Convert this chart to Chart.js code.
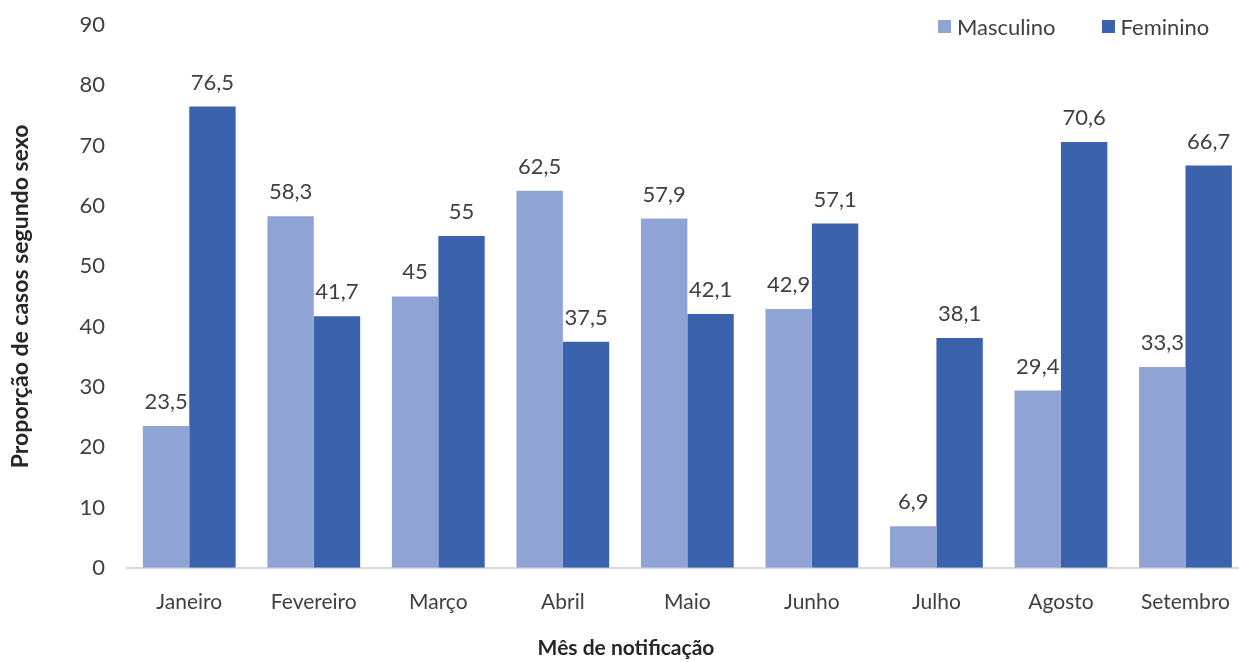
<!DOCTYPE html>
<html>
<head>
<meta charset="utf-8">
<script src="https://cdn.jsdelivr.net/npm/chart.js@4"></script>
<style>
  html, body { margin: 0; padding: 0; background: #fff; overflow: hidden; }
  #wrap { position: relative; width: 1252px; height: 662px; }
  #legend { position: absolute; top: 13px; left: 938px; font-family: Lato, sans-serif; font-size: 22px; color: #404040; display: flex; align-items: center; }
  #legend span.box { display: inline-block; width: 13px; height: 13px; margin-right: 6px; }
  #legend span.item { display: flex; align-items: center; margin-right: 46px; }
</style>
</head>
<body>
<div id="wrap">
  <canvas id="myChart" width="1252" height="662"></canvas>
  <div id="legend"></div>
</div>
<script>
var meses = ['Janeiro', 'Fevereiro', 'Março', 'Abril', 'Maio', 'Junho', 'Julho', 'Agosto', 'Setembro'];
var masculino = [23.5, 58.3, 45, 62.5, 57.9, 42.9, 6.9, 29.4, 33.3];
var feminino = [76.5, 41.7, 55, 37.5, 42.1, 57.1, 38.1, 70.6, 66.7];
var corMasc = '#8fa3d5';
var corFem = '#3b63ad';

// labels above bars, decimal comma
var valueLabels = {
    id: 'valueLabels',
    afterDatasetsDraw: function(chart) {
        var c = chart.ctx;
        c.save();
        c.font = '22px Lato, sans-serif';
        c.fillStyle = '#404040';
        c.textAlign = 'center';
        c.textBaseline = 'bottom';
        chart.data.datasets.forEach(function(ds, i) {
            chart.getDatasetMeta(i).data.forEach(function(bar, j) {
                c.fillText(String(ds.data[j]).replace('.', ','), bar.x, bar.y - 13);
            });
        });
        c.restore();
    }
};

var ctx = document.getElementById('myChart').getContext('2d');
var myChart = new Chart(ctx, {
    type: 'bar',
    data: {
        labels: meses,
        datasets: [{
            label: 'Masculino',
            data: masculino,
            backgroundColor: corMasc
        }, {
            label: 'Feminino',
            data: feminino,
            backgroundColor: corFem
        }]
    },
    options: {
        responsive: false,
        animation: false,
        layout: { padding: { top: 25, left: 0, right: 0, bottom: 0 } },
        datasets: { bar: { categoryPercentage: 0.745, barPercentage: 1 } },
        plugins: {
            legend: { display: false },
            tooltip: { enabled: false },
            title: {
                display: true,
                position: 'bottom',
                text: 'Mês de notificação',
                color: '#262626',
                font: { family: 'Lato, sans-serif', size: 21, weight: 'bold' },
                padding: { top: 0, bottom: 1 }
            }
        },
        scales: {
            x: {
                grid: { display: false, drawTicks: false },
                border: { display: true, color: '#d9d9d9', width: 2 },
                ticks: { color: '#404040', font: { family: 'Lato, sans-serif', size: 21 }, padding: 22, maxRotation: 0 },
                afterFit: function(s) { s.height = 68; }
            },
            y: {
                min: 0,
                max: 90,
                grid: { display: false, drawTicks: false },
                border: { display: false },
                ticks: { stepSize: 10, color: '#404040', font: { family: 'Lato, sans-serif', size: 22 }, padding: 22 },
                title: {
                    display: true,
                    text: 'Proporção de casos segundo sexo',
                    color: '#262626',
                    font: { family: 'Lato, sans-serif', size: 23, weight: 'bold' },
                    padding: { top: 7, bottom: 0 }
                },
                afterFit: function(s) { s.width = 127; s.paddingTop = 0; s.paddingBottom = 0; }
            }
        }
    },
    plugins: [valueLabels]
});

// html legend
var leg = document.getElementById('legend');
myChart.data.datasets.forEach(function(ds) {
    var item = document.createElement('span');
    item.className = 'item';
    item.innerHTML = '<span class="box" style="background:' + ds.backgroundColor + '"></span>' + ds.label;
    leg.appendChild(item);
});
</script>
</body>
</html>
